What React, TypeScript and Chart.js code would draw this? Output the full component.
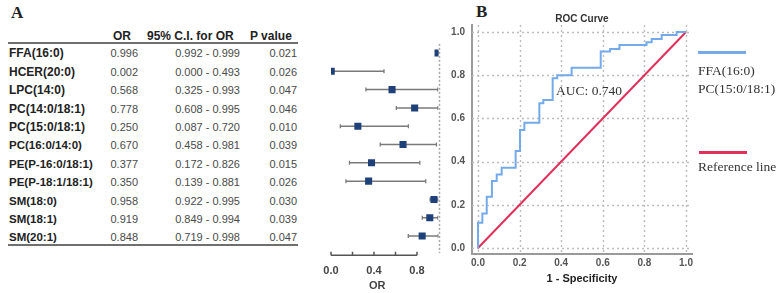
import React, { useEffect, useRef } from 'react';
import { Chart, registerables } from 'chart.js';

Chart.register(...registerables);

// Logistic regression results per lipid species
const lipids = [
  'FFA(16:0)', 'HCER(20:0)', 'LPC(14:0)', 'PC(14:0/18:1)', 'PC(15:0/18:1)', 'PC(16:0/14:0)',
  'PE(P-16:0/18:1)', 'PE(P-18:1/18:1)', 'SM(18:0)', 'SM(18:1)', 'SM(20:1)',
];
const oddsRatio = [0.996, 0.002, 0.568, 0.778, 0.250, 0.670, 0.377, 0.350, 0.958, 0.919, 0.848];
const ciLower = [0.992, 0.000, 0.325, 0.608, 0.087, 0.458, 0.172, 0.139, 0.922, 0.849, 0.719];
const ciUpper = [0.999, 0.493, 0.993, 0.995, 0.720, 0.981, 0.826, 0.881, 0.995, 0.994, 0.998];
const pValues = [0.021, 0.026, 0.047, 0.046, 0.010, 0.039, 0.015, 0.026, 0.030, 0.039, 0.047];
const orTicks = [0, 0.2, 0.4, 0.6, 0.8];
const orTickLabels = ['0.0', '', '0.4', '', '0.8'];

// ROC operating points (1 - specificity, sensitivity) for the combined panel
const rocFpr = [0, 0, 0.021, 0.042, 0.067, 0.09, 0.114, 0.181, 0.202, 0.223, 0.295, 0.314, 0.359, 0.381, 0.45, 0.59, 0.635, 0.68, 0.81, 0.835, 0.883, 0.955, 1];
const rocTpr = [0, 0.117, 0.16, 0.237, 0.31, 0.34, 0.372, 0.449, 0.546, 0.58, 0.67, 0.685, 0.786, 0.8, 0.835, 0.91, 0.921, 0.94, 0.952, 0.968, 0.986, 1, 1];
const rocTicks = [0, 0.2, 0.4, 0.6, 0.8, 1.0];
const aucValue = 0.74;
const rocLegend = ['FFA(16:0)', 'PC(15:0/18:1)'];

const BLUE = '#74aaea';
const RED = '#e0305a';
const NAVY = '#1f4179';
const GRID = '#bcbcbc';

const strokeSegment = (ctx: CanvasRenderingContext2D, x1: number, y1: number, x2: number, y2: number) => {
  ctx.beginPath();
  ctx.moveTo(x1, y1);
  ctx.lineTo(x2, y2);
  ctx.stroke();
};

const forestAxisPlugin = {
  id: 'forestAxis',
  beforeDatasetsDraw(chart: any) {
    const { ctx, chartArea, scales } = chart;
    const px = Math.round(scales.x.getPixelForValue(1)) + 0.5;
    ctx.save();
    ctx.strokeStyle = '#a6a6a6';
    ctx.lineWidth = 1.5;
    ctx.setLineDash([2, 2]);
    strokeSegment(ctx, px, chartArea.top, px, chartArea.bottom + 8);
    ctx.restore();
  },
  afterDraw(chart: any) {
    const { ctx, chartArea, scales } = chart;
    const x = scales.x;
    const axisY = chartArea.bottom + 10;
    ctx.save();
    ctx.strokeStyle = '#555';
    ctx.lineWidth = 1.5;
    ctx.beginPath();
    ctx.moveTo(x.getPixelForValue(orTicks[0]), axisY);
    ctx.lineTo(x.getPixelForValue(orTicks[orTicks.length - 1]), axisY);
    orTicks.forEach((t) => {
      const p = x.getPixelForValue(t);
      ctx.moveTo(p, axisY);
      ctx.lineTo(p, axisY - 3.5);
    });
    ctx.stroke();
    ctx.fillStyle = '#444';
    ctx.font = 'bold 11px "Liberation Sans", Arial, sans-serif';
    ctx.textAlign = 'center';
    ctx.textBaseline = 'middle';
    orTicks.forEach((t, i) => {
      if (orTickLabels[i]) ctx.fillText(orTickLabels[i], x.getPixelForValue(t), axisY + 16);
    });
    ctx.fillText('OR', x.getPixelForValue(0.43), axisY + 31);
    ctx.restore();
  },
};

// dotted grid at each ROC tick, drawn under the curves
const rocGridPlugin = {
  id: 'rocGrid',
  beforeDatasetsDraw(chart: any) {
    const { ctx, chartArea: a, scales } = chart;
    ctx.save();
    ctx.strokeStyle = GRID;
    ctx.lineWidth = 1.4;
    ctx.setLineDash([2, 3]);
    rocTicks.forEach((t) => {
      const px = Math.round(scales.x.getPixelForValue(t)) + 0.5;
      strokeSegment(ctx, px, a.top, px, a.bottom);
      const py = Math.round(scales.y.getPixelForValue(t)) + 0.5;
      strokeSegment(ctx, a.left, py, a.right, py);
    });
    ctx.restore();
  },
};

const rowTop = (i: number) => 53.3 + i * 18.4 - 8;

export default function App() {
  const forestRef = useRef<HTMLCanvasElement>(null);
  const rocRef = useRef<HTMLCanvasElement>(null);

  useEffect(() => {
    const ciSets = lipids.map((_, i) => ({
      type: 'scatter' as const,
      data: [
        { x: ciLower[i], y: i },
        { x: ciUpper[i], y: i },
      ],
      showLine: true,
      borderColor: '#7a7a7a',
      borderWidth: 1.5,
      pointStyle: 'line' as const,
      pointRotation: 90,
      pointRadius: 2,
      pointBorderColor: '#7a7a7a',
      pointBorderWidth: 1.3,
      clip: 0,
      order: 2,
    }));

    const forest = new Chart(forestRef.current as HTMLCanvasElement, {
      type: 'scatter',
      data: {
        datasets: [
          ...ciSets,
          {
            type: 'scatter' as const,
            data: oddsRatio.map((v, i) => ({ x: v, y: i })),
            pointStyle: 'rect',
            pointRadius: 5,
            backgroundColor: NAVY,
            borderColor: NAVY,
            borderWidth: 0,
            clip: 0,
            order: 1,
          },
        ] as any,
      },
      options: {
        responsive: false,
        animation: false,
        devicePixelRatio: 1,
        layout: { padding: { left: 31, right: 11.5, top: 43.85, bottom: 47.8 } },
        plugins: { legend: { display: false }, tooltip: { enabled: false }, title: { display: false } },
        scales: {
          x: { type: 'linear', min: 0, max: 1, display: false },
          y: { type: 'linear', min: -0.5, max: 10.5, reverse: true, display: false },
        },
      },
      plugins: [forestAxisPlugin],
    });

    const axisFont = { family: '"Liberation Sans", Arial, sans-serif', size: 10, weight: 'bold' as const };

    const roc = new Chart(rocRef.current as HTMLCanvasElement, {
      type: 'scatter',
      data: {
        datasets: [
          {
            label: 'FFA(16:0) PC(15:0/18:1)',
            data: rocFpr.map((v, i) => ({ x: v, y: rocTpr[i] })),
            showLine: true,
            stepped: 'before',
            borderColor: BLUE,
            borderWidth: 2,
            pointRadius: 0,
          },
          {
            label: 'Reference line',
            data: [
              { x: 0, y: 0 },
              { x: 1, y: 1 },
            ],
            showLine: true,
            borderColor: RED,
            borderWidth: 2,
            pointRadius: 0,
          },
        ] as any,
      },
      options: {
        responsive: false,
        animation: false,
        devicePixelRatio: 1,
        layout: { padding: { left: 0, right: 8, top: 0, bottom: 0 } },
        plugins: {
          legend: { display: false },
          tooltip: { enabled: false },
          title: {
            display: true,
            text: 'ROC Curve',
            fullSize: false,
            color: '#333',
            font: axisFont,
            padding: { top: 13, bottom: 0 },
          },
        },
        scales: {
          x: {
            type: 'linear',
            min: -0.0288,
            max: 1.0288,
            afterBuildTicks: (s: any) => {
              s.ticks = rocTicks.map((v) => ({ value: v }));
            },
            afterFit: (s: any) => {
              s.height = 39;
            },
            grid: { display: false, drawTicks: false },
            border: { display: true, color: '#9a9a9a', width: 2 },
            ticks: {
              padding: 3,
              color: '#555',
              font: axisFont,
              callback: (v: any) => Number(v).toFixed(1),
            },
            title: {
              display: true,
              text: '1 - Specificity',
              color: '#222',
              font: { ...axisFont, size: 11 },
              padding: { top: 0, bottom: 7.4 },
            },
          },
          y: {
            type: 'linear',
            min: -0.0278,
            max: 1.0324,
            afterBuildTicks: (s: any) => {
              s.ticks = rocTicks.map((v) => ({ value: v }));
            },
            afterFit: (s: any) => {
              s.width = 32;
            },
            grid: { display: false, drawTicks: false },
            border: { display: true, color: '#9a9a9a', width: 2 },
            ticks: {
              padding: 7,
              color: '#555',
              font: axisFont,
              callback: (v: any) => Number(v).toFixed(1),
            },
          },
        },
      },
      plugins: [rocGridPlugin],
    });

    return () => {
      forest.destroy();
      roc.destroy();
    };
  }, []);

  const sans = '"Liberation Sans", Arial, sans-serif';
  const serif = '"Liberation Serif", "Times New Roman", serif';
  const abs = (style: React.CSSProperties): React.CSSProperties => ({ position: 'absolute', whiteSpace: 'nowrap', ...style });
  const header = { fontFamily: sans, fontWeight: 'bold' as const, fontSize: 12, lineHeight: '16px', color: '#222' };
  const cell = { fontFamily: sans, fontSize: 11, lineHeight: '16px', color: '#4a4a4a', textAlign: 'right' as const };

  return (
    <div style={{ position: 'fixed', left: 0, top: 0, width: 779, height: 293, background: '#fff', overflow: 'hidden' }}>
      {/* panel letters */}
      <div style={abs({ left: 11, top: 3, fontFamily: serif, fontWeight: 'bold', fontSize: 17, color: '#222' })}>A</div>
      <div style={abs({ left: 476, top: 2, fontFamily: serif, fontWeight: 'bold', fontSize: 17, color: '#222' })}>B</div>

      {/* odds ratio table */}
      <div style={abs({ left: 113, top: 28, ...header })}>OR</div>
      <div style={abs({ left: 147, top: 28, ...header })}>95% C.I. for OR</div>
      <div style={abs({ left: 250, top: 28, ...header })}>P value</div>
      <div style={abs({ left: 8, top: 42, width: 290, height: 2, background: '#6f6f6f' })} />
      {lipids.map((name, i) => (
        <React.Fragment key={name}>
          <div style={abs({ left: 9, top: rowTop(i), ...header, fontSize: i < 5 ? 12 : 11.5 })}>{name}</div>
          <div style={abs({ left: 88, width: 50, top: rowTop(i), ...cell })}>{oddsRatio[i].toFixed(3)}</div>
          <div style={abs({ left: 150, width: 90, top: rowTop(i), ...cell })}>{`${ciLower[i].toFixed(3)} - ${ciUpper[i].toFixed(3)}`}</div>
          <div style={abs({ left: 247, width: 50, top: rowTop(i), ...cell })}>{pValues[i].toFixed(3)}</div>
        </React.Fragment>
      ))}
      <div style={abs({ left: 8, top: 244, width: 290, height: 2, background: '#6f6f6f' })} />

      {/* forest plot */}
      <canvas ref={forestRef} width={150} height={293} style={abs({ left: 300, top: 0 })} />

      {/* ROC curve */}
      <canvas ref={rocRef} width={260} height={293} style={abs({ left: 440, top: 0 })} />
      <div style={abs({ left: 556, top: 82, fontFamily: serif, fontSize: 13.5, lineHeight: '18px', color: '#333' })}>{`AUC: ${aucValue.toFixed(3)}`}</div>

      {/* legend */}
      <div style={abs({ left: 698, top: 50.5, width: 48, height: 3, background: BLUE })} />
      <div style={abs({ left: 698, top: 62, fontFamily: serif, fontSize: 13.5, lineHeight: '17.5px', color: '#333' })}>
        {rocLegend.map((l) => (
          <div key={l}>{l}</div>
        ))}
      </div>
      <div style={abs({ left: 699, top: 150.5, width: 48, height: 3, background: RED })} />
      <div style={abs({ left: 698, top: 158, fontFamily: serif, fontSize: 13.5, lineHeight: '17.5px', color: '#333' })}>Reference line</div>
    </div>
  );
}
